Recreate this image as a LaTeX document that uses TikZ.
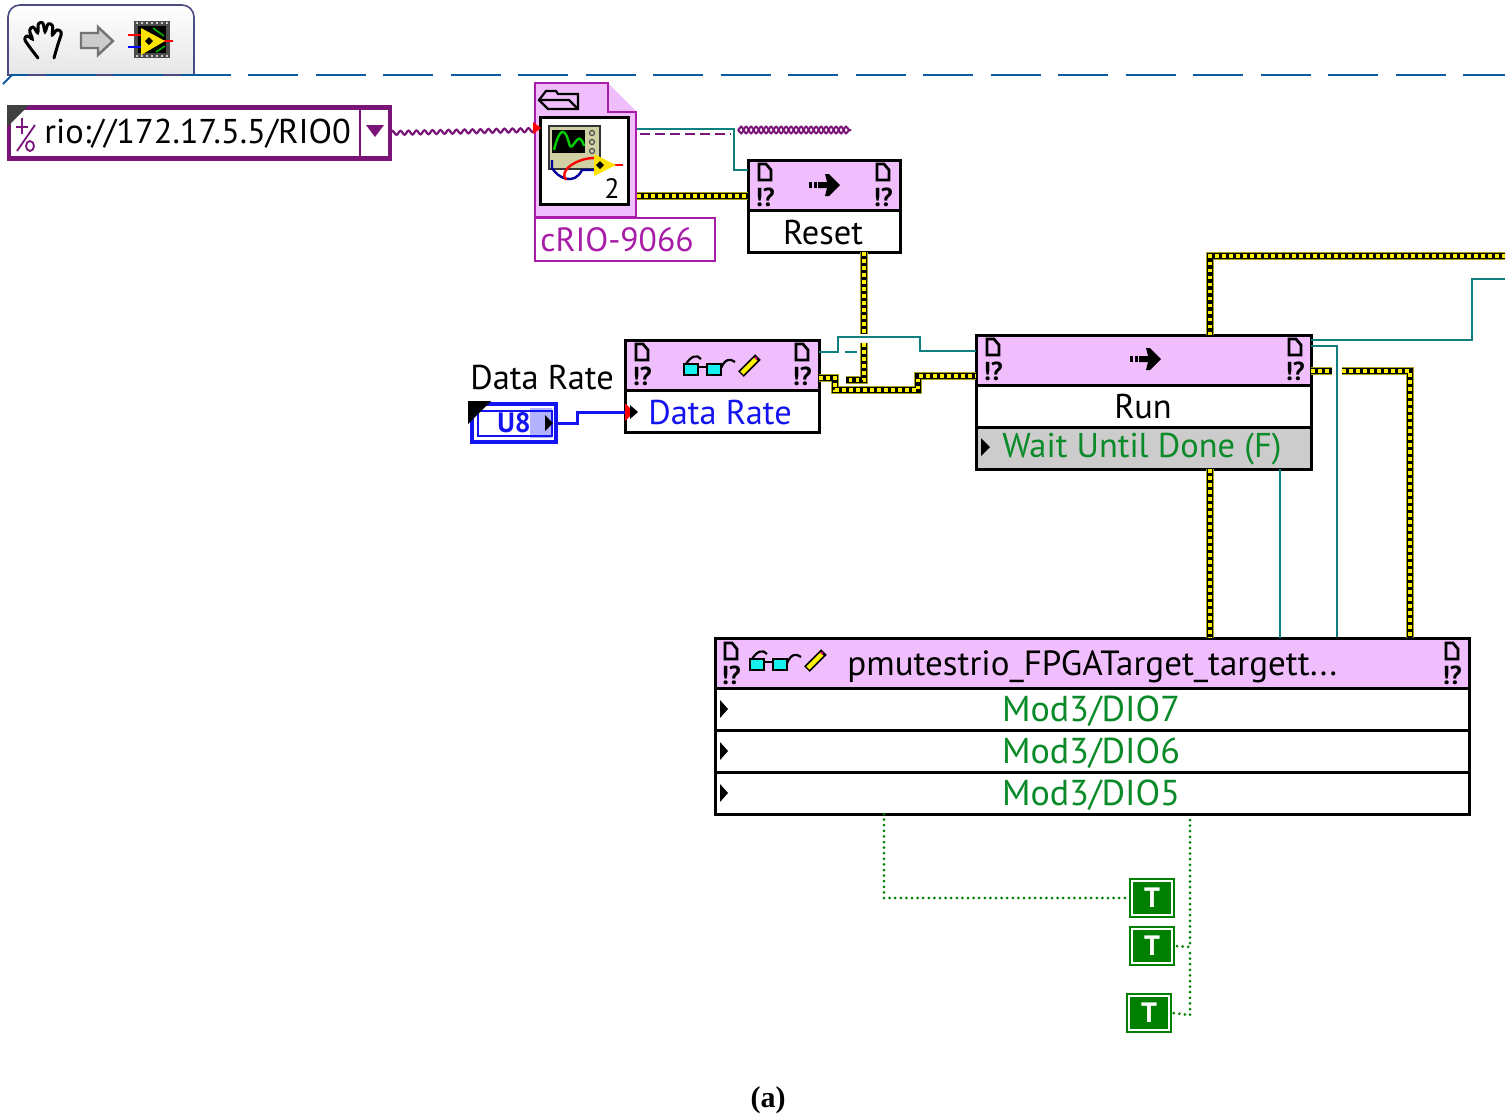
\documentclass[tikz,border=0pt]{standalone}
\usepackage{fontspec}
\setmainfont{PT Sans}
\newfontfamily\capfont{Liberation Serif}
\usepackage{tikz}
\usetikzlibrary{arrows.meta, positioning, calc, decorations.pathmorphing}
\definecolor{lvpink}{HTML}{F0BEFC}
\definecolor{lvpurple}{HTML}{7A1478}
\definecolor{lvmagenta}{HTML}{A81CA8}
\definecolor{lvteal}{HTML}{0F7F7F}
\definecolor{lvgreen}{HTML}{007F00}
\definecolor{lvtext}{HTML}{0A8A28}
\definecolor{lvblue}{HTML}{1414F0}
\definecolor{lvdash}{HTML}{0A5AA0}
\definecolor{lvolive}{HTML}{A8A020}
\definecolor{lvlens}{HTML}{18F0F0}
\definecolor{lvbeige}{HTML}{D0D0A4}
\tikzset{
    lvbox/.style={draw=black, line width=1.5pt, inner sep=0pt, outer sep=0pt, minimum height=21pt},
    headbox/.style={lvbox, fill=lvpink, minimum height=25pt},
    lvlabel/.style={font=\fontsize{17.2}{17}\selectfont, inner sep=0pt},
    pageglyph/.style={inner sep=0pt, outer sep=0pt, minimum width=9pt, minimum height=10.5pt, path picture={
        \draw[line width=1.4pt, shift={(path picture bounding box.center)}] (-6,-8) -- (1,-8) -- (6,-2) -- (6,8) -- (-6,8) -- cycle;}},
    errglyph/.style={inner sep=0pt, outer sep=0pt, font=\fontsize{13}{13}\selectfont\bfseries},
    errwire/.style={black, line width=3.4pt, preaction={draw=lvolive, line width=4.4pt},
        postaction={draw=yellow, line width=2.2pt, dash pattern=on 1.75pt off 1.75pt}},
    refwire/.style={lvteal, line width=1.3pt},
    boolwire/.style={lvgreen, line width=1.5pt, line cap=round, dash pattern=on 0pt off 2.8pt},
    tconst/.style={draw=lvgreen, double=white, double distance=1pt, line width=1.2pt, fill=lvgreen,
        minimum width=20pt, minimum height=17pt, inner sep=0pt, outer sep=2pt,
        text=white, font=\fontsize{14}{14}\selectfont\bfseries},
    pics/flyarrow/.style={code={
        \fill (-18,-3) rectangle (-15,3);
        \fill (-13,-3) rectangle (-10,3);
        \fill (-9,-3) -- (0,-3) -- (-2,-11) -- (2,-11) -- (13,0) -- (2,11) -- (-2,11) -- (0,3) -- (-9,3) -- cycle;
    }},
    pics/glassespen/.style={code={
        \draw[line width=1.4pt, fill=lvlens] (-19,-2) rectangle (-5,9);
        \draw[line width=1.4pt, fill=lvlens] (4,-2) rectangle (18,9);
        \draw[line width=1.4pt] (-5,1) -- (4,1);
        \draw[line width=1.1pt] (-17,-2) .. controls (-12,-10) and (-6,-12) .. (-2,-7);
        \draw[line width=1.1pt] (18,2) .. controls (22,-7) and (27,-8) .. (32,-4);
        \draw[line width=4pt] (38,8) -- (55,-9);
        \draw[yellow, line width=2.2pt] (39,7) -- (53,-7);
        \fill[magenta] (53,-8) circle (1.5);
    }},
}
\begin{document}
\begin{tikzpicture}[x=0.5pt, y=-0.5pt]
    \useasboundingbox (0,0) rectangle (1505,1116);

    % Palette tab
    \draw[draw=black!45!blue!40!gray, line width=0.8pt, top color=white, bottom color=black!10]
        (8,75) [rounded corners=6pt] -- (8,5) -- (194,5) [sharp corners] -- (194,75) -- cycle;
    \draw[lvdash, line width=1.3pt, dash pattern=on 25pt off 8.75pt, dash phase=17pt] (12,75) -- (1505,75);
    \draw[lvdash, line width=1pt] (3,84) -- (12,75);
    \draw[line width=1.5pt, line cap=round, rounded corners=1.2pt] (38,58) -- (31,49) -- (24,39) -- (27,35) -- (33,40) -- (29,30) -- (33,26) -- (38,34) -- (38,23) -- (43,22) -- (45,33) -- (48,23) -- (53,25) -- (52,36) -- (57,29) -- (62,32) -- (58,44) -- (54,58);
    \draw[black!55, fill=black!20, line width=1.2pt] (81,33) -- (98,33) -- (98,27) -- (113,41) -- (98,55) -- (98,48) -- (81,48) -- cycle;
    \fill[black!70] (134,21) rectangle (170,58);
    \fill[black] (138,26) rectangle (166,53);
    \foreach \x in {137,142,...,167} {
        \fill[black!20] (\x-1,22) rectangle (\x+1,24);
        \fill[black!20] (\x-1,55) rectangle (\x+1,57);
    }
    \draw[green!70!black, line width=0.8pt] (153,28) -- (164,36) (156,52) -- (165,46);
    \draw[red, line width=1.2pt] (128,35) -- (141,35);
    \draw[blue, line width=1.2pt] (128,47) -- (141,47);
    \draw[red, line width=1.2pt] (160,41) -- (173,41);
    \fill[yellow!85!orange] (141,28) -- (141,55) -- (165,41) -- cycle;
    \fill (149,37) -- (153,41) -- (149,45) -- (145,41) -- cycle;

    % Resource name control
    \node[draw=lvpurple, line width=2.4pt, minimum width=190.5pt, minimum height=25.5pt, inner sep=0pt, outer sep=0pt] (rionode) at (199.5,133) {};
    \draw[lvpurple, line width=1.4pt] (360,107) -- (360,159);
    \fill[black!75] (7,105) -- (29,105) -- (7,127) -- cycle;
    \fill[lvpurple] (366,125) -- (384,125) -- (375,137) -- cycle;
    \draw[lvpurple, line width=0.9pt] (17,151) -- (35,125);
    \draw[lvpurple, line width=0.9pt] (22,118) -- (22,134) (16,127) -- (28,127);
    \draw[lvpurple, line width=0.9pt] (30,146) ellipse (4 and 5);
    \node[lvlabel, anchor=west] (riotext) at (44,134) {rio://172.17.5.5/RIO0};

    % cRIO file icon
    \node[minimum width=50.5pt, minimum height=67pt, inner sep=0pt, outer sep=0pt] (criofile) at (585.5,150) {};
    \fill[lvpink] (535,83) -- (608,83) -- (636,111) -- (636,217) -- (535,217) -- cycle;
    \draw[lvmagenta, line width=1.4pt] (535,83) -- (608,83) -- (608,112) -- (636,112) -- (636,217) -- (535,217) -- cycle;
    \draw[line width=1.1pt, fill=lvpink] (539,100) -- (546,91) -- (556,91) -- (558,94) -- (578,94) -- (578,109) -- (548,109) -- cycle;
    \draw[line width=1.1pt] (539,100) -- (569,100) -- (578,109);
    \node[draw=black, fill=white, line width=1.5pt, minimum width=44pt, minimum height=43.5pt, outer sep=0pt] (crioicon) at (584,160.5) {};
    \fill[black!80] (548,125) rectangle (601,170);
    \fill[lvbeige] (550,127) rectangle (599,168);
    \fill (552,130) rectangle (585,153);
    \foreach \y in {133,142,151}
        \draw[black!70, line width=0.6pt] (592,\y) circle (2.5);
    \draw[green!80!black, line width=1.2pt] (554,150) .. controls (561,122) and (566,132) .. (569,143) .. controls (572,157) and (578,125) .. (584,146);
    \draw[blue!60!black, line width=1.2pt] (552,160) -- (552,168) .. controls (558,178) and (574,186) .. (582,170) -- (596,170);
    \draw[red, line width=1.2pt] (566,180) .. controls (558,170) and (578,158) .. (594,158);
    \draw[red, line width=1.2pt] (612,165) -- (623,165);
    \fill[yellow!85!orange] (594,154) -- (594,176) -- (616,165) -- cycle;
    \fill (600,161) -- (604,165) -- (600,169) -- (596,165) -- cycle;
    \node[font=\fontsize{14}{14}\selectfont, inner sep=0pt] (crionum) at (612,189) {2};
    \node[draw=lvmagenta, fill=white, line width=1pt, minimum width=90pt, minimum height=21.5pt, inner sep=0pt, outer sep=0pt] (criolabel) at (625,239.5) {};
    \node[lvlabel, lvmagenta, anchor=west, font=\fontsize{16.8}{17}\selectfont] (criotext) at (540,240) {cRIO-9066};
    \coordinate (crioin) at (535,130);
    \coordinate (criorefout) at (637,129);
    \coordinate (criodash) at (640,134);
    \coordinate (crioerrout) at (637,196);

    % Reset method
    \node[headbox, minimum width=76pt] (resethead) at (824,185) {};
    \node[lvbox, minimum width=76pt, fill=white, below=0pt of resethead] (resetbody) {};
    \node[lvlabel] (resettext) at (823,233) {Reset};
    \node[pageglyph] (resetpagein) at (765,172) {};
    \node[pageglyph] (resetpageout) at (883,172) {};
    \node[errglyph] (reseterrin) at (765,197) {!?};
    \node[errglyph] (reseterrout) at (883,197) {!?};
    \pic at (827,185) {flyarrow};

    % Data Rate property
    \node[headbox, minimum width=97pt] (ratehead) at (722,365) {};
    \node[lvbox, minimum width=97pt, fill=white, below=0pt of ratehead] (ratebody) {};
    \node[lvlabel, text=lvblue] (ratetext) at (720,413) {Data Rate};
    \node[pageglyph] (ratepagein) at (642,352) {};
    \node[pageglyph] (ratepageout) at (802,352) {};
    \node[errglyph] (rateerrin) at (642,376) {!?};
    \node[errglyph] (rateerrout) at (802,376) {!?};
    \pic at (703,366) {glassespen};

    % Data Rate control
    \node[lvlabel] (ctrllabel) at (542,378) {Data Rate};
    \node[draw=lvblue, line width=2.4pt, minimum width=42pt, minimum height=19pt, inner sep=0pt, outer sep=0pt] (ctrlbox) at (514,423) {};
    \fill[blue!30] (530,408) rectangle (552,438);
    \draw[lvblue, line width=0.9pt] (478,411) rectangle (552,436);
    \fill (468,401) -- (491,401) -- (468,424) -- cycle;
    \node[text=lvblue, font=\fontsize{14}{14}\selectfont\bfseries, inner sep=0pt] (ctrltext) at (514,423) {U8};
    \fill (545,415) -- (553,423) -- (545,431) -- cycle;

    % Run method
    \node[headbox, minimum width=167.5pt] (runhead) at (1143.5,360) {};
    \node[lvbox, minimum width=167.5pt, fill=white, below=0pt of runhead] (runbody) {};
    \node[lvbox, minimum width=167.5pt, fill=black!20, below=0pt of runbody] (runwait) {};
    \node[lvlabel] (runtext) at (1143,407) {Run};
    \node[lvlabel, text=lvtext, anchor=west] (waittext) at (1002,449) {Wait Until Done (F)};
    \fill (981,438) -- (990,447) -- (981,456) -- cycle;
    \node[pageglyph] (runpagein) at (993,347) {};
    \node[pageglyph] (runpageout) at (1295,347) {};
    \node[errglyph] (runerrin) at (993,371) {!?};
    \node[errglyph] (runerrout) at (1295,371) {!?};
    \pic at (1148,359) {flyarrow};

    % FPGA property node
    \node[headbox, minimum width=377pt] (pmuhead) at (1092,663) {};
    \node[lvbox, minimum width=377pt, fill=white, below=0pt of pmuhead] (dioseven) {};
    \node[lvbox, minimum width=377pt, fill=white, below=0pt of dioseven] (diosix) {};
    \node[lvbox, minimum width=377pt, fill=white, below=0pt of diosix] (diofive) {};
    \node[lvlabel, anchor=west, font=\fontsize{17.5}{17}\selectfont] (pmutext) at (847,667) {pmutestrio\_FPGATarget\_targett...};
    \node[lvlabel, text=lvtext, font=\fontsize{18}{17}\selectfont] (seventext) at (1091,711) {Mod3/DIO7};
    \node[lvlabel, text=lvtext, font=\fontsize{18}{17}\selectfont] (sixtext) at (1091,753) {Mod3/DIO6};
    \node[lvlabel, text=lvtext, font=\fontsize{18}{17}\selectfont] (fivetext) at (1091,795) {Mod3/DIO5};
    \foreach \y in {709, 751, 793}
        \fill (720,\y-9) -- (728,\y) -- (720,\y+9) -- cycle;
    \node[pageglyph] (pmupagein) at (731,651) {};
    \node[pageglyph] (pmupageout) at (1452,651) {};
    \node[errglyph] (pmuerrin) at (731,675) {!?};
    \node[errglyph] (pmuerrout) at (1452,675) {!?};
    \pic at (769,661) {glassespen};

    % True constants
    \node[tconst] (tseven) at (1152,898) {T};
    \node[tconst] (tsix) at (1152,946) {T};
    \node[tconst] (tfive) at (1149,1013) {T};

    % Wires
    \draw[decorate, decoration={snake, segment length=4, amplitude=1, pre length=0pt, post length=0pt}, lvpurple, line width=1.1pt] (rionode.east) -- (crioin);
    \fill[red] (533,122) -- (541,128) -- (533,134) -- cycle;
    \draw[refwire] (criorefout) -- ++(97,0) |- (resethead.west |- 0,170);
    \draw[lvpurple, line width=1.3pt, dash pattern=on 5pt off 2.5pt] (criodash) -- (731,134);
    \draw[decorate, decoration={snake, segment length=5, amplitude=1.7, pre length=0pt, post length=0pt}, lvpurple, line width=1pt] (738,130) -- (851,130);
    \draw[decorate, decoration={snake, segment length=5, amplitude=-1.7, pre length=0pt, post length=0pt}, lvpurple, line width=1pt] (738,130) -- (851,130);
    \draw[errwire] (crioerrout) -- (resethead.west |- crioerrout);
    \draw[errwire] (resetbody.south -| 864,0) -- (864,334);
    \draw[errwire] (864,343) -- (864,380) -- (846,380);
    \draw[refwire] (ratehead.east |- ratepageout) -- (838,352) -- (838,337) -- (920,337) -- (920,351) -- (runhead.west |- 0,351);
    \draw[refwire] (845,352) -- (857,352);
    \draw[errwire] (ratehead.east |- 0,378) -- (835,378) -- (835,390) -- (918,390) -- (918,376) -- (runhead.west |- 0,376);
    \draw[lvblue, line width=1.5pt] (ctrlbox.east) -- (577,423) -- (577,412) -- (ratebody.west |- 0,412);
    \fill[red] (625,403) -- (634,412) -- (625,421) -- cycle;
    \fill (630,405) -- (638,412) -- (630,419) -- cycle;
    \coordinate (topright) at (1505,256);
    \coordinate (refright) at (1505,279);
    \draw[errwire] (runhead.north -| 1210,0) |- (topright);
    \draw[refwire] (runhead.east |- 0,340) -- (1472,340) -- (1472,279) -- (refright);
    \draw[refwire] (runhead.east |- 0,346) -- (1337,346) -- (1337,637);
    \draw[errwire] (runhead.east |- runerrout) -- (1332,371);
    \draw[errwire] (1342,371) -| (pmuhead.north -| 1410,0);
    \draw[errwire] (runwait.south -| 1210,0) -- (pmuhead.north -| 1210,0);
    \draw[refwire] (runwait.south -| 1280,0) -- (pmuhead.north -| 1280,0);
    \draw[boolwire] (diofive.south -| 884,0) |- (tseven.west);
    \draw[boolwire] (1190,820) -- (1190,947) -- (tsix.east);
    \draw[boolwire] (1190,953) -- (1190,1015) -- (tfive.east);

    % Caption
    \node[font=\capfont\fontsize{15}{15}\selectfont\bfseries, inner sep=0pt] (caption) at (768,1100) {(a)};
\end{tikzpicture}
\end{document}
